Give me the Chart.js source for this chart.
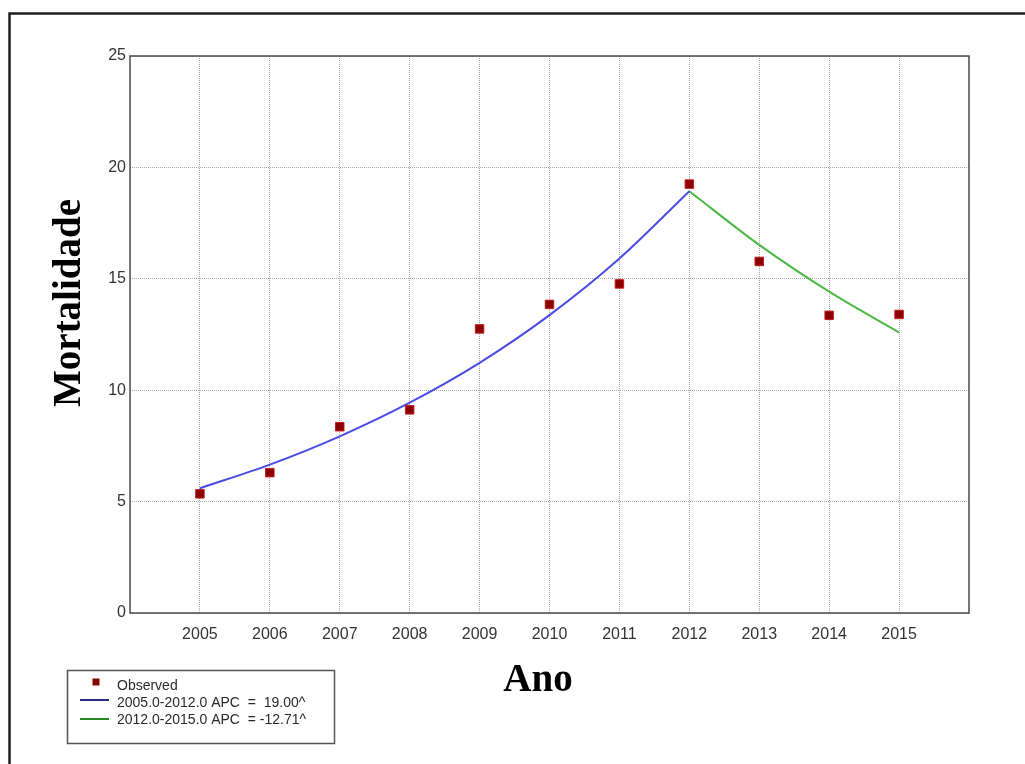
<!DOCTYPE html>
<html>
<head>
<meta charset="utf-8">
<script src="https://cdn.jsdelivr.net/npm/chart.js@4/dist/chart.umd.min.js"></script>
<style>
  html, body { margin: 0; padding: 0; background: #ffffff; }
  #wrap { width: 1025px; height: 764px; position: relative; }
</style>
</head>
<body>
<div id="wrap"><canvas id="c" width="1025" height="764"></canvas></div>
<script>
// Years on the x axis
const years = [2005, 2006, 2007, 2008, 2009, 2010, 2011, 2012, 2013, 2014, 2015];
// Observed mortality
const observed = [5.35, 6.3, 8.36, 9.12, 12.75, 13.85, 14.77, 19.25, 15.78, 13.36, 13.4];
// Joinpoint segment 1: 2005-2012
const segment1Years = [2005, 2006, 2007, 2008, 2009, 2010, 2011, 2012];
const segment1 = [5.6, 6.66, 7.93, 9.44, 11.23, 13.37, 15.91, 18.93];
// Joinpoint segment 2: 2012-2015
const segment2Years = [2012, 2013, 2014, 2015];
const segment2 = [18.93, 16.52, 14.42, 12.59];
// Y tick values
const yTicks = [0, 5, 10, 15, 20, 25];
// Legend texts
const legendLabels = ['Observed', '2005.0-2012.0 APC  =  19.00^', '2012.0-2015.0 APC  = -12.71^'];
const yTitle = 'Mortalidade';
const xTitle = 'Ano';

const pts = (xs, ys) => xs.map((x, i) => ({ x: x, y: ys[i] }));

const COL_BLUE = '#4b4be6';
const COL_GREEN = '#4db844';
const COL_MARK = '#8a0000';

const decorPlugin = {
  id: 'decor',
  afterDraw(chart) {
    const ctx = chart.ctx;
    const a = chart.chartArea;
    ctx.save();
    // outer frame (top and left edges)
    ctx.strokeStyle = '#1e1e1e';
    ctx.lineWidth = 2.5;
    ctx.beginPath();
    ctx.moveTo(9.5, 764);
    ctx.lineTo(9.5, 13.5);
    ctx.lineTo(1025, 13.5);
    ctx.stroke();

    // plot border
    ctx.strokeStyle = '#4a4a4a';
    ctx.lineWidth = 1.5;
    ctx.strokeRect(a.left, a.top, a.right - a.left, a.bottom - a.top);

    // axis titles
    ctx.fillStyle = '#000000';
    ctx.font = 'bold 39px "Liberation Serif", "Times New Roman", serif';
    ctx.textAlign = 'center';
    ctx.textBaseline = 'middle';
    ctx.fillText(xTitle, 538, 681);
    ctx.save();
    ctx.translate(70, 303);
    ctx.rotate(-Math.PI / 2);
    ctx.fillText(yTitle, 0, 0);
    ctx.restore();

    // legend box
    const lx = 67, ly = 670, lw = 267, lh = 73;
    ctx.fillStyle = '#ffffff';
    ctx.fillRect(lx, ly, lw, lh);
    ctx.strokeStyle = '#555555';
    ctx.lineWidth = 1.5;
    ctx.strokeRect(lx + 0.5, ly + 0.5, lw, lh);

    ctx.font = '14px "Liberation Sans", Arial, sans-serif';
    ctx.textAlign = 'left';
    ctx.textBaseline = 'middle';
    const rows = [686, 703, 720];
    // marker
    ctx.fillStyle = COL_MARK;
    ctx.fillRect(92.5, 678.5, 7, 7);
    // lines
    ctx.lineWidth = 2;
    ctx.strokeStyle = '#2a2a8c';
    ctx.beginPath(); ctx.moveTo(80, 700); ctx.lineTo(109, 700); ctx.stroke();
    ctx.strokeStyle = '#238a23';
    ctx.beginPath(); ctx.moveTo(80, 719); ctx.lineTo(109, 719); ctx.stroke();
    ctx.fillStyle = '#2a2a2a';
    legendLabels.forEach((t, i) => ctx.fillText(t, 117, rows[i]));
    ctx.restore();
  }
};

const gridStyle = {
  color: '#a6a6a6',
  lineWidth: 1,
  drawTicks: false
};
// dotted grid lines (border.dash applies to grid lines in v4)
const borderStyle = { display: false, dash: [1, 1] };

new Chart(document.getElementById('c'), {
  type: 'scatter',
  data: {
    datasets: [
      {
        label: legendLabels[1],
        type: 'line',
        data: pts(segment1Years, segment1),
        borderColor: COL_BLUE,
        borderWidth: 2,
        pointRadius: 0,
        cubicInterpolationMode: 'monotone',
        fill: false,
        order: 2
      },
      {
        label: legendLabels[2],
        type: 'line',
        data: pts(segment2Years, segment2),
        borderColor: COL_GREEN,
        borderWidth: 2,
        pointRadius: 0,
        cubicInterpolationMode: 'monotone',
        fill: false,
        order: 2
      },
      {
        label: legendLabels[0],
        data: pts(years, observed),
        pointStyle: 'rect',
        pointRadius: 6,
        pointBackgroundColor: COL_MARK,
        pointBorderColor: '#c41a1a',
        pointBorderWidth: 1,
        order: 1
      }
    ]
  },
  options: {
    responsive: false,
    animation: false,
    layout: { padding: { left: 0, right: 56, top: 56, bottom: 0 } },
    plugins: {
      legend: { display: false },
      tooltip: { enabled: false }
    },
    scales: {
      x: {
        type: 'linear',
        min: years[0] - 1,
        max: years[years.length - 1] + 1,
        afterBuildTicks(scale) {
          scale.ticks = years.map(v => ({ value: v }));
        },
        afterFit(scale) { scale.height = 151; },
        border: Object.assign({}, borderStyle),
        grid: Object.assign({}, gridStyle),
        ticks: {
          padding: 12,
          color: '#333333',
          font: { family: '"Liberation Sans", Arial, sans-serif', size: 16 },
          callback: v => String(v),
          maxRotation: 0,
          autoSkip: false
        }
      },
      y: {
        min: yTicks[0],
        max: yTicks[yTicks.length - 1],
        afterBuildTicks(scale) {
          scale.ticks = yTicks.map(v => ({ value: v }));
        },
        afterFit(scale) { scale.width = 130; },
        border: Object.assign({}, borderStyle),
        grid: Object.assign({}, gridStyle),
        ticks: {
          padding: 4,
          color: '#333333',
          font: { family: '"Liberation Sans", Arial, sans-serif', size: 16 }
        }
      }
    }
  },
  plugins: [decorPlugin]
});
</script>
</body>
</html>
